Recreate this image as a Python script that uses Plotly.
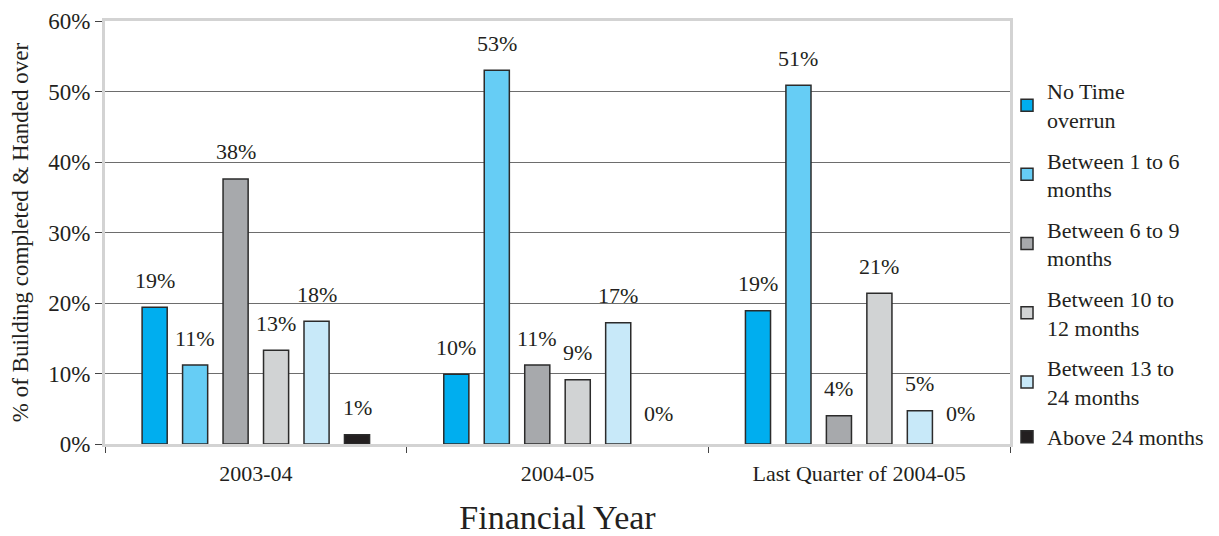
import plotly.graph_objects as go

categories = ["2003-04", "2004-05", "Last Quarter of 2004-05"]
series_names = ["No Time<br>overrun", "Between 1 to 6<br>months", "Between 6 to 9<br>months",
                "Between 10 to<br>12 months", "Between 13 to<br>24 months", "Above 24 months"]
no_overrun = [19.4, 9.9, 18.9]
m1_6 = [11.2, 53.0, 50.9]
m6_9 = [37.6, 11.2, 4.0]
m10_12 = [13.3, 9.1, 21.4]
m13_24 = [17.4, 17.2, 4.7]
above24 = [1.3, 0.0, 0.0]
series_values = [no_overrun, m1_6, m6_9, m10_12, m13_24, above24]
labels_no_overrun = ["19%", "10%", "19%"]
labels_1_6 = ["11%", "53%", "51%"]
labels_6_9 = ["38%", "11%", "4%"]
labels_10_12 = ["13%", "9%", "21%"]
labels_13_24 = ["18%", "17%", "5%"]
labels_above24 = ["1%", "0%", "0%"]
series_labels = [labels_no_overrun, labels_1_6, labels_6_9, labels_10_12, labels_13_24, labels_above24]
colors = ["#00AEEF", "#66CDF5", "#A7A9AC", "#D1D3D4", "#C8E9F9", "#231F20"]
y_ticks = [0, 10, 20, 30, 40, 50, 60]

FONT = "Liberation Serif"

fig = go.Figure()
for i, (name, vals, labs, col) in enumerate(zip(series_names, series_values, series_labels, colors)):
    fig.add_trace(go.Bar(
        x=categories, y=vals, name=name,
        marker=dict(color=col, line=dict(color="#2b2b2b", width=[1.5 if v > 0 else 0 for v in vals])),
        text=labs, textposition="none", legendgroup=f"g{i}",
        offsetgroup=str(i),
    ))

fig.update_layout(
    barmode="group", bargap=0.195, bargroupgap=0.38,
    width=1219, height=536,
    margin=dict(l=97, r=217, t=13, b=100, autoexpand=False),
    plot_bgcolor="white", paper_bgcolor="white",
    font=dict(family=FONT, size=22, color="#231F20"),
    showlegend=True,
    legend=dict(x=0.9967, y=0.884, xanchor="left", yanchor="top", tracegroupgap=9,
                font=dict(family=FONT, size=22, color="#231F20"),
                itemwidth=30, bgcolor="rgba(0,0,0,0)"),
    xaxis=dict(
        type="category", tickson="boundaries", ticks="outside", ticklen=6, tickcolor="#444",
        tickfont=dict(family=FONT, size=22), showline=True, linecolor="#d3d3d3", linewidth=3,
        mirror=True, showgrid=False, automargin=False, ticklabelstandoff=8,
        title=dict(text="Financial Year", font=dict(family=FONT, size=34), standoff=20),
    ),
    yaxis=dict(
        range=[0, 60], tickvals=y_ticks, ticktext=[f"{v}%" for v in y_ticks],
        ticks="outside", ticklen=7, tickcolor="#444", tickfont=dict(family=FONT, size=23),
        showline=True, linecolor="#d3d3d3", linewidth=3, mirror=True, automargin=False,
        showgrid=True, gridcolor="#6d6d6d", gridwidth=1, zeroline=False,
        title=dict(text="% of Building completed & Handed over", font=dict(family=FONT, size=23), standoff=21),
    ),
)

# value labels above each bar, positioned via the bar's own data coordinates
n = len(series_names)
for i, (vals, labs) in enumerate(zip(series_values, series_labels)):
    for j, (v, lab) in enumerate(zip(vals, labs)):
        fig.add_annotation(
            x=categories[j], y=v, text=lab, showarrow=False,
            xref="x", yref="y", yanchor="middle", yshift=27 if v > 0 else 31,
            xshift=(i - (n - 1) / 2) * 40.5,
            font=dict(family=FONT, size=22, color="#231F20"),
        )

fig.write_html("out.html")
